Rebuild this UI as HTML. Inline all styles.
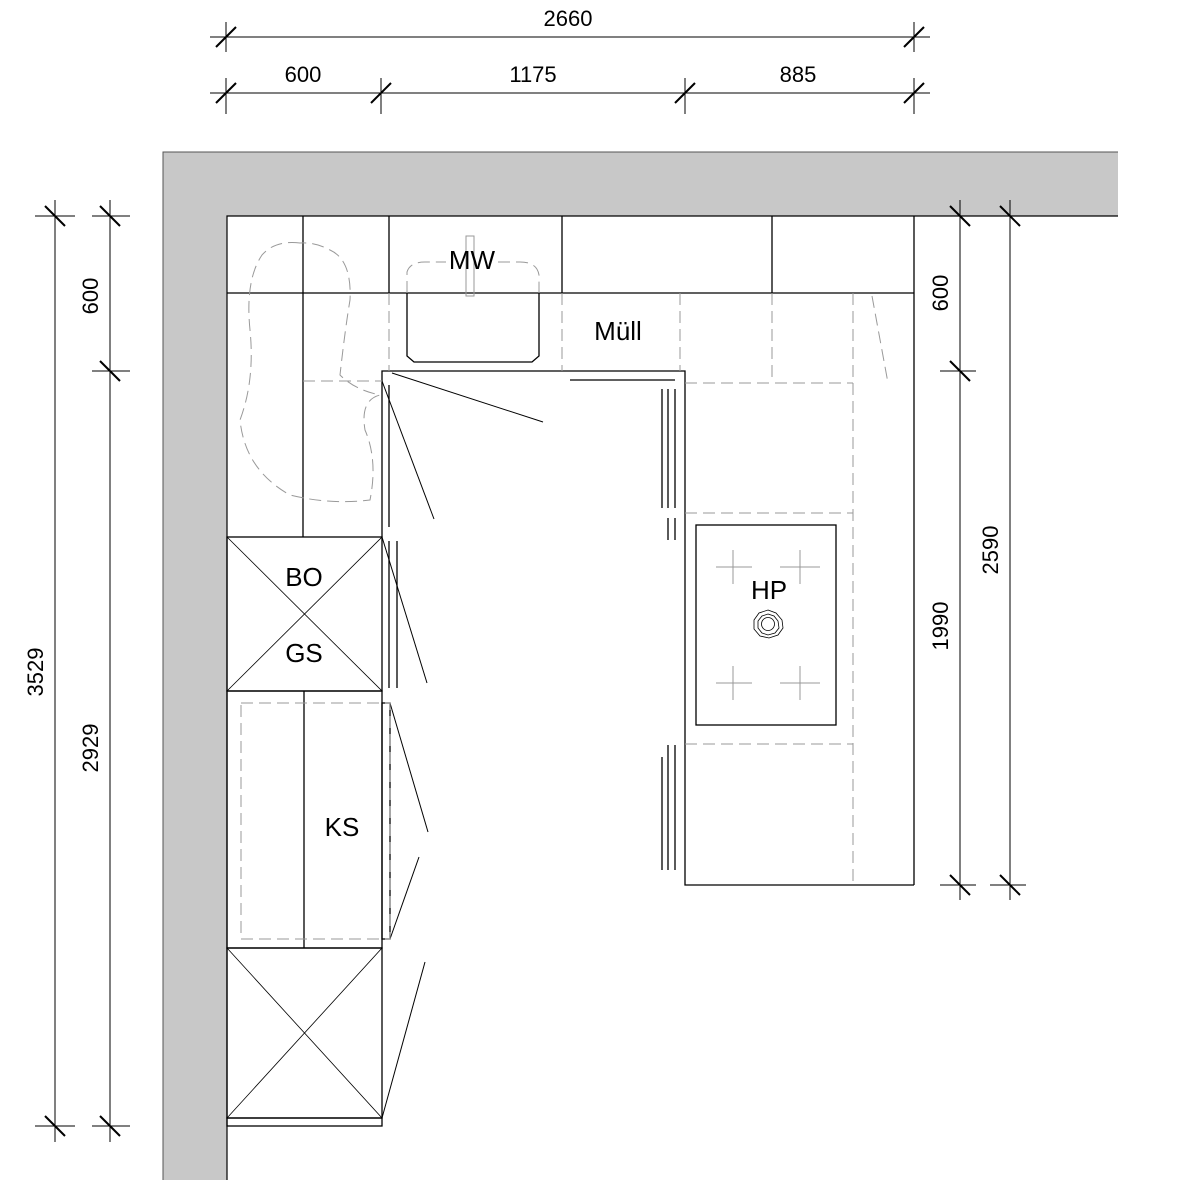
<!DOCTYPE html>
<html><head><meta charset="utf-8"><style>html,body{margin:0;padding:0;background:#fff}svg{display:block}</style></head>
<body>
<svg width="1177" height="1180" viewBox="0 0 1177 1180" xmlns="http://www.w3.org/2000/svg" font-family="Liberation Sans, sans-serif">
<!-- walls -->
<rect x="163" y="152" width="955" height="64" fill="#c8c8c8"/>
<rect x="163" y="152" width="64" height="1028" fill="#c8c8c8"/>
<polyline points="1118,216 227,216 227,1180" fill="none" stroke="#000" stroke-width="1.2"/>
<polyline points="1118,152 163,152 163,1180" fill="none" stroke="#555" stroke-width="1"/>

<g stroke="#000" stroke-width="1.3" fill="none">
<!-- top row -->
<line x1="227" y1="293" x2="914" y2="293"/>
<line x1="303" y1="216" x2="303" y2="537"/>
<line x1="389" y1="216" x2="389" y2="293"/>
<line x1="562" y1="216" x2="562" y2="293"/>
<line x1="772" y1="216" x2="772" y2="293"/>
<line x1="914" y1="216" x2="914" y2="885"/>
<!-- counter / island -->
<polyline points="382,537 382,371 685,371 685,885 914,885"/>
<line x1="389" y1="385" x2="389" y2="527"/>
<line x1="570" y1="380" x2="675" y2="380"/>
<line x1="662" y1="389" x2="662" y2="508"/><line x1="668" y1="389" x2="668" y2="508"/><line x1="675" y1="389" x2="675" y2="508"/>
<line x1="668" y1="518" x2="668" y2="540"/><line x1="675" y1="518" x2="675" y2="540"/>
<line x1="668" y1="745" x2="668" y2="870"/><line x1="662" y1="757" x2="662" y2="870"/><line x1="675" y1="745" x2="675" y2="870"/>
<!-- sink -->
<path d="M407,293 V356 L414,362 H532 L539,356 V293"/>
<!-- door swings -->
<line x1="392" y1="373" x2="543" y2="422" stroke-width="1"/>
<line x1="382" y1="381" x2="434" y2="519" stroke-width="1"/>
<line x1="382" y1="537" x2="427" y2="683" stroke-width="1"/>
<line x1="390" y1="703" x2="428" y2="832" stroke-width="1"/>
<line x1="390" y1="939" x2="419" y2="857" stroke-width="1"/>
<line x1="382" y1="1118" x2="425" y2="962" stroke-width="1"/>
<line x1="389" y1="541" x2="389" y2="688"/><line x1="397" y1="541" x2="397" y2="688"/>
<!-- left column -->
<rect x="227" y="537" width="155" height="154"/>
<line x1="227" y1="537" x2="382" y2="691" stroke-width="0.8"/><line x1="382" y1="537" x2="227" y2="691" stroke-width="0.8"/>
<rect x="227" y="691" width="155" height="257"/>
<line x1="304" y1="691" x2="304" y2="948"/>
<rect x="382" y="703" width="8" height="236"/>
<rect x="227" y="948" width="155" height="170"/>
<line x1="227" y1="948" x2="382" y2="1118" stroke-width="0.8"/><line x1="382" y1="948" x2="227" y2="1118" stroke-width="0.8"/>
<rect x="227" y="1118" width="155" height="8"/>
<!-- hob -->
<rect x="696" y="525" width="140" height="200"/>
<polygon points="768,610 776,613 782,620 783,628 778,635 769,638 760,636 754,629 754,620 759,613" stroke-width="0.8"/>
<polygon points="768,614 774,616 778,621 779,628 775,633 768,635 762,633 758,628 758,621 762,616" stroke-width="0.8"/>
<circle cx="768" cy="624" r="6.5" stroke-width="0.8"/>
</g>

<!-- gray dashed -->
<g stroke="#999" stroke-width="1" fill="none" stroke-dasharray="12,6">
<line x1="389" y1="293" x2="389" y2="371"/>
<line x1="562" y1="293" x2="562" y2="371"/>
<line x1="680" y1="293" x2="680" y2="371"/>
<line x1="772" y1="293" x2="772" y2="383"/>
<line x1="853" y1="293" x2="853" y2="885"/>
<line x1="685" y1="383" x2="853" y2="383"/>
<line x1="685" y1="513" x2="853" y2="513"/>
<line x1="685" y1="744" x2="853" y2="744"/>
<line x1="303" y1="381" x2="382" y2="381"/>
<line x1="872" y1="296" x2="888" y2="383"/>
<rect x="241" y="703" width="149" height="236"/>
<path d="M407,293 V272 Q410,262 425,262 H446 M498,262 H520 Q537,262 539,275 V293"/>
<path d="M300,243 Q275,240 262,255 Q245,280 250,330 Q255,380 240,420 Q245,470 290,495 Q330,505 370,500 Q378,460 365,430 Q360,400 380,395 Q355,390 340,375 Q345,330 350,300 Q352,260 330,250 Q315,242 300,243 Z"/>
</g>
<g stroke="#999" stroke-width="1" fill="none">
<line x1="716" y1="567" x2="752" y2="567"/><line x1="733" y1="550" x2="733" y2="584"/>
<line x1="780" y1="567" x2="820" y2="567"/><line x1="800" y1="550" x2="800" y2="584"/>
<line x1="716" y1="683" x2="752" y2="683"/><line x1="733" y1="666" x2="733" y2="700"/>
<line x1="780" y1="683" x2="820" y2="683"/><line x1="800" y1="666" x2="800" y2="700"/>
<rect x="466" y="236" width="8" height="60"/>
</g>

<!-- labels -->
<g font-size="26" fill="#000" text-anchor="middle">
<text x="472" y="269">MW</text>
<text x="618" y="340">Müll</text>
<text x="769" y="599">HP</text>
<text x="304" y="586">BO</text>
<text x="304" y="662">GS</text>
<text x="342" y="836">KS</text>
</g>

<!-- dimensions -->
<g stroke="#000" stroke-width="1" fill="none">
<line x1="210" y1="37" x2="930" y2="37"/>
<line x1="226" y1="22" x2="226" y2="52"/><line x1="914" y1="22" x2="914" y2="52"/>
<line x1="216" y1="47" x2="236" y2="27" stroke-width="2"/><line x1="904" y1="47" x2="924" y2="27" stroke-width="2"/>
<line x1="210" y1="93" x2="930" y2="93"/>
<line x1="226" y1="78" x2="226" y2="114"/><line x1="381" y1="78" x2="381" y2="114"/><line x1="685" y1="78" x2="685" y2="114"/><line x1="914" y1="78" x2="914" y2="114"/>
<line x1="216" y1="103" x2="236" y2="83" stroke-width="2"/><line x1="371" y1="103" x2="391" y2="83" stroke-width="2"/><line x1="675" y1="103" x2="695" y2="83" stroke-width="2"/><line x1="904" y1="103" x2="924" y2="83" stroke-width="2"/>

<line x1="55" y1="200" x2="55" y2="1142"/>
<line x1="35" y1="216" x2="75" y2="216"/><line x1="35" y1="1126" x2="75" y2="1126"/>
<line x1="45" y1="206" x2="65" y2="226" stroke-width="2"/><line x1="45" y1="1116" x2="65" y2="1136" stroke-width="2"/>
<line x1="110" y1="200" x2="110" y2="1142"/>
<line x1="92" y1="216" x2="130" y2="216"/><line x1="92" y1="371" x2="130" y2="371"/><line x1="92" y1="1126" x2="130" y2="1126"/>
<line x1="100" y1="206" x2="120" y2="226" stroke-width="2"/><line x1="100" y1="361" x2="120" y2="381" stroke-width="2"/><line x1="100" y1="1116" x2="120" y2="1136" stroke-width="2"/>

<line x1="960" y1="200" x2="960" y2="900"/>
<line x1="940" y1="216" x2="976" y2="216"/><line x1="940" y1="371" x2="976" y2="371"/><line x1="940" y1="885" x2="976" y2="885"/>
<line x1="950" y1="206" x2="970" y2="226" stroke-width="2"/><line x1="950" y1="361" x2="970" y2="381" stroke-width="2"/><line x1="950" y1="875" x2="970" y2="895" stroke-width="2"/>
<line x1="1010" y1="200" x2="1010" y2="900"/>
<line x1="990" y1="216" x2="1026" y2="216"/><line x1="990" y1="885" x2="1026" y2="885"/>
<line x1="1000" y1="206" x2="1020" y2="226" stroke-width="2"/><line x1="1000" y1="875" x2="1020" y2="895" stroke-width="2"/>
</g>
<g font-size="22" fill="#000" text-anchor="middle">
<text x="568" y="26">2660</text>
<text x="303" y="82">600</text>
<text x="533" y="82">1175</text>
<text x="798" y="82">885</text>
<text transform="translate(43,672) rotate(-90)">3529</text>
<text transform="translate(98,296) rotate(-90)">600</text>
<text transform="translate(98,748) rotate(-90)">2929</text>
<text transform="translate(948,293) rotate(-90)">600</text>
<text transform="translate(948,626) rotate(-90)">1990</text>
<text transform="translate(998,550) rotate(-90)">2590</text>
</g>
</svg>
</body></html>
